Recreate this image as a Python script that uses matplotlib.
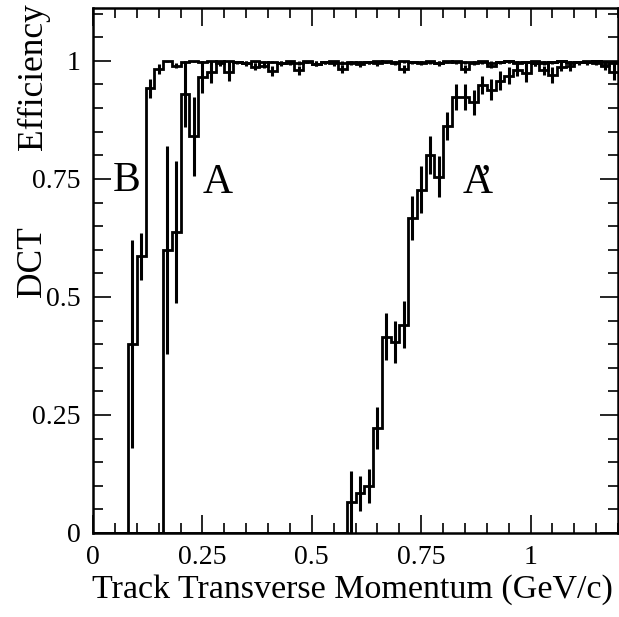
import numpy as np
import matplotlib
matplotlib.use("Agg")
import matplotlib.pyplot as plt
from matplotlib.ticker import MultipleLocator

plt.rcParams['font.family'] = ['Liberation Serif', 'DejaVu Serif']
plt.rcParams['mathtext.fontset'] = 'custom'
plt.rcParams['mathtext.rm'] = 'Liberation Serif'

# Track pT binning: 60 bins of 0.02 GeV/c from 0 to 1.2
bin_edges = np.linspace(0.0, 1.2, 61)

# Sample B
eff_B = [0, 0, 0, 0, 0.40, 0.586, 0.942, 0.983, 1.0, 0.99,
         0.998, 1.0, 0.997, 0.999, 0.995, 0.999, 0.998, 0.996, 0.999, 0.99,
         0.998, 0.995, 0.999, 0.996, 0.998, 0.994, 0.997, 0.999, 0.996, 0.998,
         0.993, 0.997, 0.999, 0.998, 0.996, 0.999, 0.998, 0.997, 0.999, 0.995,
         0.998, 0.999, 0.997, 0.998, 0.999, 0.996, 0.998, 0.999, 0.997, 0.998,
         0.999, 0.996, 0.998, 0.999, 0.997, 0.998, 0.999, 0.995, 0.998, 0.997]
err_B = [0, 0, 0, 0, 0.22, 0.05, 0.02, 0.01, 0.003, 0.006,
         0.003, 0.002, 0.004, 0.003, 0.005, 0.003, 0.003, 0.004, 0.003, 0.006,
         0.003, 0.004, 0.003, 0.004, 0.003, 0.005, 0.003, 0.003, 0.004, 0.003,
         0.005, 0.003, 0.003, 0.003, 0.004, 0.003, 0.003, 0.003, 0.003, 0.004,
         0.003, 0.003, 0.003, 0.003, 0.003, 0.004, 0.003, 0.003, 0.003, 0.003,
         0.003, 0.004, 0.003, 0.003, 0.003, 0.003, 0.003, 0.004, 0.003, 0.004]

# Sample A
eff_A = [0, 0, 0, 0, 0, 0, 0, 0, 0.60, 0.637,
         0.93, 0.84, 0.966, 0.977, 1.0, 0.977, 0.998, 0.995, 0.988, 0.997,
         0.979, 0.995, 0.996, 0.98, 0.999, 0.994, 0.997, 0.995, 0.983, 0.996,
         0.998, 0.997, 0.995, 0.999, 0.998, 0.983, 0.997, 0.996, 0.998, 0.995,
         1.0, 0.997, 0.983, 0.996, 0.998, 0.99, 0.997, 0.999, 0.996, 0.998,
         0.995, 0.98, 0.997, 0.999, 0.996, 0.998, 0.997, 0.999, 0.992, 0.996]
err_A = [0, 0, 0, 0, 0, 0, 0, 0, 0.22, 0.15,
         0.07, 0.083, 0.035, 0.023, 0.004, 0.02, 0.004, 0.005, 0.008, 0.004,
         0.01, 0.005, 0.005, 0.01, 0.003, 0.005, 0.004, 0.005, 0.008, 0.004,
         0.003, 0.004, 0.005, 0.003, 0.004, 0.008, 0.004, 0.005, 0.004, 0.005,
         0.002, 0.004, 0.008, 0.005, 0.004, 0.006, 0.004, 0.003, 0.005, 0.004,
         0.005, 0.01, 0.004, 0.003, 0.005, 0.004, 0.004, 0.003, 0.006, 0.005]

# Sample A'
eff_Ap = [0, 0, 0, 0, 0, 0, 0, 0, 0, 0,
          0, 0, 0, 0, 0, 0, 0, 0, 0, 0,
          0, 0, 0, 0, 0, 0, 0, 0, 0, 0.066,
          0.084, 0.0996, 0.222, 0.416, 0.405, 0.441, 0.667, 0.727, 0.80, 0.755,
          0.862, 0.923, 0.923, 0.912, 0.949, 0.939, 0.958, 0.968, 0.981, 0.975,
          0.996, 0.998, 0.97, 0.988, 0.99, 0.998, 0.998, 1.0, 0.99, 0.977]
err_Ap = [0, 0, 0, 0, 0, 0, 0, 0, 0, 0,
          0, 0, 0, 0, 0, 0, 0, 0, 0, 0,
          0, 0, 0, 0, 0, 0, 0, 0, 0, 0.065,
          0.037, 0.036, 0.044, 0.05, 0.045, 0.05, 0.046, 0.05, 0.04, 0.044,
          0.03, 0.028, 0.028, 0.027, 0.02, 0.022, 0.02, 0.018, 0.014, 0.02,
          0.006, 0.005, 0.017, 0.01, 0.012, 0.006, 0.006, 0.004, 0.01, 0.018]

x_ticks = [0, 0.25, 0.5, 0.75, 1]
x_ticklabels = ["0", "0.25", "0.5", "0.75", "1"]
y_ticks = [0, 0.25, 0.5, 0.75, 1]
y_ticklabels = ["0", "0.25", "0.5", "0.75", "1"]

fig = plt.figure(figsize=(6.19, 6.17), dpi=100)
ax = fig.add_axes([93 / 619, 84 / 617, 525 / 619, 525 / 617])

centers = 0.5 * (bin_edges[:-1] + bin_edges[1:])
for eff, err in ((eff_B, err_B), (eff_A, err_A), (eff_Ap, err_Ap)):
    eff = np.asarray(eff)
    err = np.asarray(err)
    ax.stairs(eff, bin_edges, baseline=None, color='black', linewidth=2.0)
    m = eff > 0
    lo = np.minimum(err[m], eff[m])
    hi = np.minimum(err[m], 1.0 - eff[m])
    ax.errorbar(centers[m], eff[m], yerr=[lo, hi], fmt='none',
                ecolor='black', elinewidth=2.2, capsize=0)

ax.set_xlim(0, 1.2)
ax.set_ylim(0, 1.112)
ax.set_xticks(x_ticks)
ax.set_xticklabels(x_ticklabels)
ax.set_yticks(y_ticks)
ax.set_yticklabels(y_ticklabels)
ax.xaxis.set_minor_locator(MultipleLocator(0.05))
ax.yaxis.set_minor_locator(MultipleLocator(0.05))
ax.tick_params(which='both', direction='in', top=True, right=True,
               labelsize=20, width=1.2)
ax.tick_params(which='major', length=13, pad=9)
ax.tick_params(which='minor', length=7)
for s in ax.spines.values():
    s.set_linewidth(1.8)

fig.text(352 / 619, 1 - 590 / 617, "Track Transverse Momentum (GeV/c)",
         ha='center', va='center', fontsize=24.5)
fig.text(33 / 619, 1 - 3 / 617, "Efficiency", rotation=90,
         ha='center', va='top', fontsize=25.5)
fig.text(33 / 619, 1 - 262 / 617, "DCT", rotation=90,
         ha='center', va='center', fontsize=25.5)

ax.text(0.077, 0.746, "B", fontsize=30, ha='center', va='center')
ax.text(0.284, 0.742, "A", fontsize=30, ha='center', va='center')
ax.text(0.88, 0.742, "A$\\!\\!$\u2019", fontsize=30,
        ha='center', va='center')

fig.savefig("out.png", dpi=100)
